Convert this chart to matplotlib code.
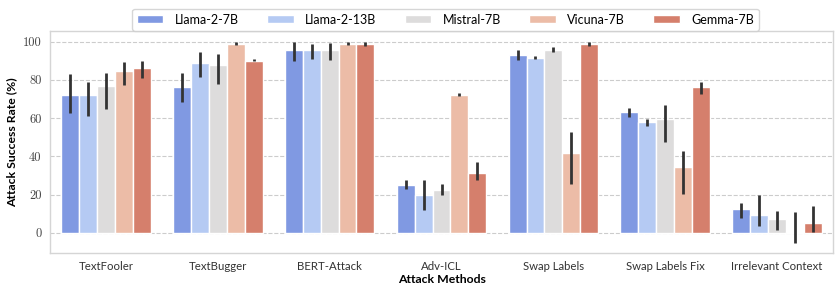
import colorsys
import numpy as np
import matplotlib
matplotlib.use("Agg")
import matplotlib.pyplot as plt

# attack methods on the x axis
methods = ['TextFooler', 'TextBugger', 'BERT-Attack', 'Adv-ICL',
           'Swap Labels', 'Swap Labels Fix', 'Irrelevant Context']
models = ['Llama-2-7B', 'Llama-2-13B', 'Mistral-7B', 'Vicuna-7B', 'Gemma-7B']

# mean attack success rate (%) per model
llama7 = [72.3, 76.3, 95.7, 24.9, 92.7, 63.2, 12.5]
llama13 = [72.0, 88.9, 95.7, 19.7, 91.3, 57.8, 9.4]
mistral = [76.7, 87.7, 95.7, 22.5, 95.5, 59.6, 7.1]
vicuna = [84.7, 98.8, 98.8, 71.8, 42.0, 34.5, 0.5]
gemma = [86.4, 89.9, 98.8, 31.2, 98.6, 76.3, 5.2]

# confidence interval bounds (lower, upper)
llama7_lo = [62.6, 68.2, 89.9, 23.0, 90.1, 60.8, 7.7]
llama7_hi = [83.1, 83.7, 99.7, 27.4, 95.8, 65.2, 15.8]
llama13_lo = [61.2, 81.4, 91.1, 12.2, 90.8, 55.6, 3.7]
llama13_hi = [79.0, 94.3, 98.6, 27.9, 92.3, 59.6, 19.7]
mistral_lo = [64.7, 77.9, 90.3, 20.0, 94.4, 47.4, 1.4]
mistral_hi = [83.8, 93.6, 99.3, 25.8, 96.9, 66.9, 11.5]
vicuna_lo = [77.4, 98.1, 98.4, 71.4, 25.8, 20.2, -5.4]
vicuna_hi = [89.2, 99.7, 100.0, 73.3, 52.8, 43.0, 11.0]
gemma_lo = [80.9, 89.6, 97.9, 27.7, 97.9, 72.6, 0.7]
gemma_hi = [89.9, 90.8, 100.0, 36.8, 100.0, 79.1, 14.1]

values = [llama7, llama13, mistral, vicuna, gemma]
lows = [llama7_lo, llama13_lo, mistral_lo, vicuna_lo, gemma_lo]
highs = [llama7_hi, llama13_hi, mistral_hi, vicuna_hi, gemma_hi]


def desat(c, s=0.75):
    h, l, sat = colorsys.rgb_to_hls(*c[:3])
    return colorsys.hls_to_rgb(h, l, sat * s)


cmap = plt.get_cmap('coolwarm')
colors = [desat(cmap(p)) for p in np.linspace(0, 1, 7)[1:-1]]

fig = plt.figure(figsize=(8.35, 2.85), dpi=100)
ax = fig.add_axes([50 / 835, 1 - 253 / 285, 783 / 835, 222 / 285])

x = np.arange(len(methods))
w = 0.8 / len(models)
for i, m in enumerate(models):
    pos = x - 0.4 + w * (i + 0.5)
    v = np.array(values[i])
    lo = np.array(lows[i])
    hi = np.array(highs[i])
    ax.bar(pos, v, width=w, color=colors[i], edgecolor='white', linewidth=1,
           label=m, zorder=2)
    ax.errorbar(pos, v, yerr=[v - lo, hi - v], fmt='none', ecolor='#333333',
                elinewidth=2.0, capsize=0, zorder=3)

ax.set_xlim(-0.5, len(methods) - 0.5)
ax.set_ylim(-10.5, 105.5)
ax.set_yticks([0, 20, 40, 60, 80, 100])
ax.set_xticks(x)
ax.set_xticklabels(methods, fontsize=8.2, family='Lato', color='#333333')
for t in ax.get_yticklabels():
    t.set_fontfamily('cmr10')
    t.set_fontsize(9)
    t.set_color('#444444')
ax.tick_params(length=0, pad=6)
ax.yaxis.grid(True, linestyle='--', color='#cccccc', linewidth=0.8, zorder=0)
ax.set_axisbelow(True)
for s in ax.spines.values():
    s.set_color('#d5d5d5')
    s.set_linewidth(1.0)

ax.set_xlabel('Attack Methods', fontsize=8.8, fontweight='bold', family='Lato',
              labelpad=1)
ax.set_ylabel('Attack Success Rate (%)', fontsize=8.8, fontweight='bold',
              family='Lato', labelpad=4)

leg = ax.legend(loc='lower center', bbox_to_anchor=(0.505, 0.995), ncol=5,
                frameon=True, columnspacing=2.3, handlelength=2.1,
                handleheight=0.6, handletextpad=0.9, borderaxespad=0.1,
                prop={'family': 'Lato', 'size': 9})
leg.get_frame().set_edgecolor('#cccccc')

fig.savefig('out.png', dpi=100)
